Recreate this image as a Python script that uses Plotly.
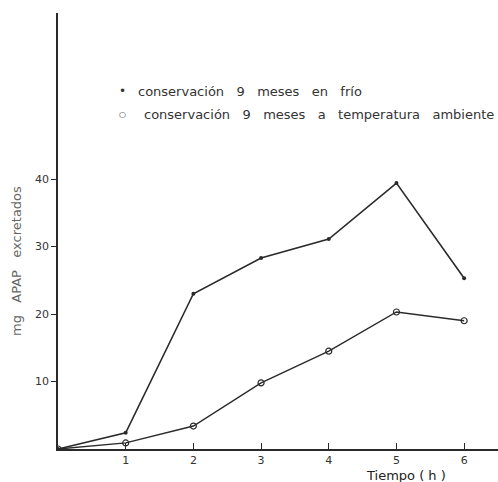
import plotly.graph_objects as go

tiempo = [0, 1, 2, 3, 4, 5, 6]
frio = [0, 2.4, 23.0, 28.3, 31.1, 39.4, 25.3]
ambiente = [0, 0.9, 3.4, 9.8, 14.5, 20.3, 19.0]
x_ticks = [1, 2, 3, 4, 5, 6]
y_ticks = [10, 20, 30, 40]
sp = "\u00a0\u00a0\u00a0"
label_frio = sp.join(["conservación", "9", "meses", "en", "frío"])
label_amb = sp.join(["conservación", "9", "meses", "a", "temperatura", "ambiente"])
label_y = sp.join(["mg", "APAP", "excretados"])
label_x = "Tiempo\u00a0(\u00a0h\u00a0)"

ink = "#2a2a2a"
fig = go.Figure()
fig.add_trace(go.Scatter(x=tiempo, y=frio, mode="lines+markers",
                         line=dict(color=ink, width=1.6),
                         marker=dict(symbol="circle", size=4, color=ink),
                         showlegend=False))
fig.add_trace(go.Scatter(x=tiempo, y=ambiente, mode="lines+markers",
                         line=dict(color=ink, width=1.4),
                         marker=dict(symbol="circle-open", size=6, color=ink, line=dict(width=1.2)),
                         showlegend=False))

L, T, H, W = 58, 13, 436, 440
def px(x):
    return (x - L) / W
def py(y):
    return (T + H - y) / H

def note(x, y, text, size, color, xanchor="left", angle=0):
    return dict(xref="paper", yref="paper", x=px(x), y=py(y), xanchor=xanchor,
                yanchor="middle", text=text, showarrow=False, textangle=angle,
                font=dict(size=size, color=color))

fig.update_layout(
    width=498, height=482,
    margin=dict(l=L, r=0, t=T, b=482 - T - H),
    paper_bgcolor="white", plot_bgcolor="white",
    font=dict(family="DejaVu Sans", size=11, color="#333333"),
    xaxis=dict(range=[0, 6.5], tickvals=x_ticks, ticks="inside", ticklen=6,
               tickcolor=ink, showline=True, linecolor=ink, linewidth=1.6,
               showgrid=False, zeroline=False, tickfont=dict(size=11, color="#333")),
    yaxis=dict(range=[0, 64.6], tickvals=y_ticks, ticks="outside", ticklen=5,
               tickcolor=ink, showline=True, linecolor=ink, linewidth=1.6,
               showgrid=False, zeroline=False, tickfont=dict(size=11, color="#333")),
    annotations=[
        note(406, 475, label_x, 13, "#222", xanchor="center"),
        note(16, 261, label_y, 13, "#666", xanchor="center", angle=-90),
        note(122, 91, "•", 12, "#333", xanchor="center"),
        note(136, 91, label_frio, 13, "#333"),
        note(122, 114, "○", 8, "#333", xanchor="center"),
        note(142, 114, label_amb, 13, "#333"),
    ],
)
fig.write_html("out.html")
